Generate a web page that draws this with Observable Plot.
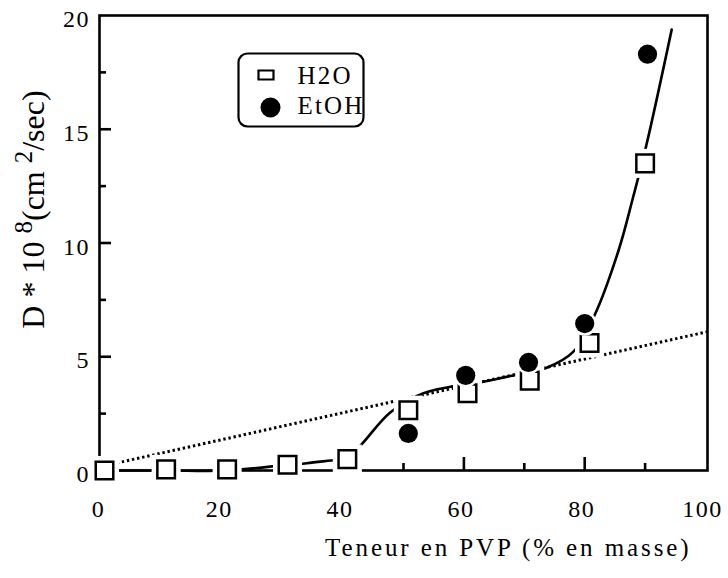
<!DOCTYPE html>
<html><head><meta charset="utf-8">
<script src="https://cdn.jsdelivr.net/npm/d3@7"></script>
<script src="https://cdn.jsdelivr.net/npm/@observablehq/plot@0.6"></script>
<style>html,body{margin:0;padding:0;background:#fff}</style>
</head><body><div id="chart"></div>
<script>
// ---- data ----
const h2oX = [0.5, 10.7, 20.8, 30.8, 40.7, 50.8, 60.6, 70.9, 80.8, 90.0];
const h2oY = [0, 0.05, 0.05, 0.25, 0.5, 2.65, 3.4, 3.95, 5.6, 13.5];
const etohX = [50.8, 60.3, 70.7, 80.0, 90.4];
const etohY = [1.63, 4.18, 4.75, 6.46, 18.3];
const curveX = [0.5, 10.7, 20.8, 30.8, 34.0, 38.0, 40.7, 43.2, 47.8, 53.1, 57.8, 63.2, 68.2, 73.8, 78.0, 81.6, 85.6, 88.0, 90.2, 94.4];
const curveY = [0, 0, 0, 0.25, 0.32, 0.44, 0.52, 1.19, 2.55, 3.38, 3.68, 3.9, 4.18, 4.53, 5.19, 6.81, 9.67, 12.0, 14.29, 19.38];
const trendX = [0, 100.3];
const trendY = [0.18, 6.1];
const xTicks = [0, 20, 40, 60, 80, 100];
const xMajorInner = [20, 40, 60, 80];
const xMinor = [10, 30, 50, 70, 90];
const yTicks = [0, 5, 10, 15, 20];
const yMajorInner = [5, 10, 15];
const yMinor = [2.5, 7.5, 12.5, 17.5];
const seriesNames = ["H2O", "EtOH"];
const xTitle = "Teneur en PVP (% en masse)";
const yTitle = "D * 10 8(cm 2/sec)";

// ---- tables built from the arrays ----
const h2o = h2oX.map((x, i) => ({x, y: h2oY[i]}));
const etoh = etohX.map((x, i) => ({x, y: etohY[i]}));
const fit = curveX.map((x, i) => ({x, y: curveY[i]}));
const trend = trendX.map((x, i) => ({x, y: trendY[i]}));

const W = 728, H = 578, mL = 99, mR = 21, mT = 15, mB = 108;
const plotW = W - mL - mR, plotH = H - mT - mB;
const SW = 2.6;
const legendRect = {draw(ctx) { ctx.rect(-7.5, -4.5, 15, 9); }};

const plot = Plot.plot({
  width: W, height: H,
  marginLeft: mL, marginRight: mR, marginTop: mT, marginBottom: mB,
  x: {domain: [-0.33, 100.33], axis: null, label: null},
  y: {domain: [0, 20], axis: null, label: null},
  style: {fontFamily: "'Liberation Serif', 'Times New Roman', serif", fontSize: "24px", color: "black", background: "white", overflow: "visible"},
  marks: [
    Plot.frame({stroke: "black", strokeWidth: SW}),
    Plot.tickX(xMajorInner, {x: d => d, insetTop: plotH - 13, stroke: "black", strokeWidth: SW}),
    Plot.tickX(xMinor, {x: d => d, insetTop: plotH - 7, stroke: "black", strokeWidth: SW}),
    Plot.tickY(yMajorInner, {y: d => d, insetRight: plotW - 12, stroke: "black", strokeWidth: SW}),
    Plot.tickY(yMinor, {y: d => d, insetRight: plotW - 7, stroke: "black", strokeWidth: SW}),
    Plot.line(trend, {x: "x", y: "y", stroke: "black", strokeWidth: 3, strokeDasharray: "2.4,2.8", strokeLinecap: "butt"}),
    Plot.line(fit, {x: "x", y: "y", curve: "catmull-rom", stroke: "black", strokeWidth: SW}),
    Plot.dot(h2o, {x: "x", y: "y", symbol: "square", r: 16.4, fill: "white", stroke: "none"}),
    Plot.dot(h2o, {x: "x", y: "y", symbol: "square", r: 9.9, fill: "white", stroke: "black", strokeWidth: 2.5}),
    Plot.dot(etoh, {x: "x", y: "y", symbol: "circle", r: 12.2, fill: "white", stroke: "none"}),
    Plot.dot(etoh, {x: "x", y: "y", symbol: "circle", r: 9.6, fill: "black", stroke: "none"}),
    Plot.axisX(xTicks, {tickSize: 0, tickPadding: 29, dx: -3, label: null}),
    Plot.axisY(yTicks, {tickSize: 0, tickPadding: 9.5, dy: 4, label: null}),
    // legend
    Plot.frame({rx: 9, ry: 9, fill: "white", stroke: "black", strokeWidth: 2.2,
      insetLeft: 139, insetRight: 344, insetTop: 38, insetBottom: 344}),
    Plot.dot([seriesNames[0]], {frameAnchor: "top-left", dx: 166.5, dy: 59.5, symbol: legendRect, fill: "white", stroke: "black", strokeWidth: 2.2}),
    Plot.dot([seriesNames[1]], {frameAnchor: "top-left", dx: 171, dy: 92, symbol: "circle", r: 10, fill: "black", stroke: "none"}),
    Plot.text([seriesNames[0]], {text: d => d, frameAnchor: "top-left", dx: 198, dy: 60, textAnchor: "start", lineAnchor: "middle", fontSize: 25, fill: "black"}),
    Plot.text([seriesNames[1]], {text: d => d, frameAnchor: "top-left", dx: 198, dy: 90, textAnchor: "start", lineAnchor: "middle", fontSize: 25, fill: "black"}),
    // titles
    Plot.text([xTitle], {text: d => d, frameAnchor: "bottom-right", dx: -16, dy: 85, textAnchor: "end", lineAnchor: "bottom", fontSize: 25, fill: "black"}),
    Plot.text([yTitle], {text: d => d, frameAnchor: "left", rotate: -90, dx: -56, dy: -33.5, textAnchor: "middle", lineAnchor: "bottom", fontSize: 32, fill: "black"})
  ]
});

// typographic adjustments (identify texts by their content)
const tickStrings = new Set([...xTicks, ...yTicks].map(String));
plot.querySelectorAll("text").forEach(t => {
  const s = t.textContent;
  if (tickStrings.has(s)) t.style.letterSpacing = "1.5px";
  else if (seriesNames.includes(s)) t.style.letterSpacing = "2.2px";
  else if (s === xTitle) t.style.letterSpacing = "2.9px";
  else if (s === yTitle) {
    const parts = [["D * 10 ", false], ["8", true], ["(cm ", false], ["2", true], ["/sec)", false]];
    t.textContent = "";
    let prevSup = false;
    for (const [p, sup] of parts) {
      const ts = document.createElementNS("http://www.w3.org/2000/svg", "tspan");
      ts.textContent = p;
      if (sup) { ts.setAttribute("font-size", "25"); ts.setAttribute("dy", "-12"); }
      else if (prevSup) { ts.setAttribute("dy", "12"); }
      prevSup = sup;
      t.appendChild(ts);
    }
  }
});
document.getElementById("chart").appendChild(plot);
</script>
</body></html>
